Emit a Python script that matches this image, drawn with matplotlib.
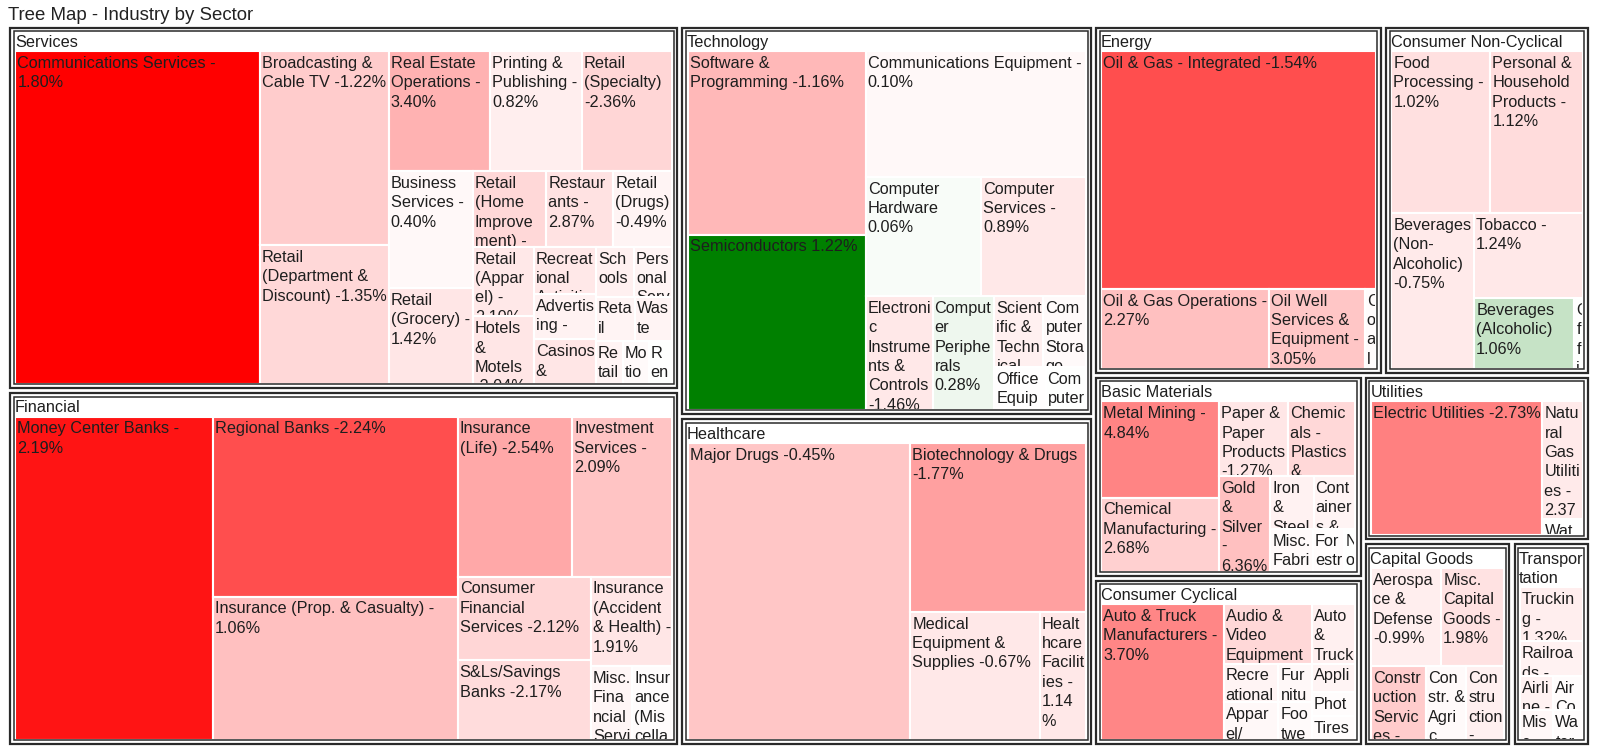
import matplotlib
matplotlib.use("Agg")
import matplotlib.pyplot as plt
from matplotlib.patches import Rectangle
from matplotlib.colors import LinearSegmentedColormap, Normalize
from matplotlib.font_manager import FontProperties
from matplotlib.transforms import Bbox, TransformedBbox

plt.rcParams['font.family'] = ['Liberation Sans', 'DejaVu Sans']

# ---------------- data ----------------
# size = market weight, change = % shown in label, heat = colour value (-1 red .. 1 green)
sectors = ['Services', 'Financial', 'Technology', 'Healthcare', 'Energy',
           'Consumer Non-Cyclical', 'Basic Materials', 'Consumer Cyclical',
           'Utilities', 'Capital Goods', 'Transportation']

services_names = ['Communications Services', 'Broadcasting & Cable TV', 'Retail (Department & Discount)',
                  'Real Estate Operations', 'Printing & Publishing', 'Retail (Specialty)',
                  'Business Services', 'Retail (Grocery)', 'Retail (Home Improvement)', 'Restaurants',
                  'Retail (Drugs)', 'Retail (Apparel)', 'Hotels & Motels', 'Recreational Activities',
                  'Advertising', 'Casinos & Gaming', 'Schools', 'Personal Services',
                  'Retail (Catalog & Mail Order)', 'Waste Management Services', 'Retail (Technology)',
                  'Motion Pictures', 'Rental & Leasing']
services_size = [88.0, 27.1, 19.4, 13.2, 11.9, 11.7, 10.6, 8.7, 6.0, 5.5, 4.8, 4.6, 4.45, 3.2,
                 3.05, 3.0, 2.05, 2.05, 1.85, 1.8, 1.25, 1.2, 1.1]
services_change = [-1.80, -1.22, -1.35, -3.40, -0.82, -2.36, -0.40, -1.42, -1.69, -2.87, -0.49,
                   -2.10, -2.04, -1.57, -1.84, -2.41, -2.32, -0.93, -1.12, -0.58, -0.77, -0.64, -0.35]
services_heat = [-1.0, -0.2, -0.15, -0.3, -0.07, -0.16, -0.03, -0.1, -0.15, -0.11, -0.04, -0.09,
                 -0.1, -0.09, -0.05, -0.1, -0.06, -0.04, -0.04, -0.04, -0.04, -0.02, 0.0]

financial_names = ['Money Center Banks', 'Regional Banks', 'Insurance (Prop. & Casualty)',
                   'Insurance (Life)', 'Investment Services', 'Consumer Financial Services',
                   'S&Ls/Savings Banks', 'Insurance (Accident & Health)', 'Misc. Financial Services',
                   'Insurance (Miscellaneous)']
financial_size = [69.4, 47.7, 38.0, 19.9, 17.3, 12.1, 11.5, 7.9, 3.3, 3.2]
financial_change = [-2.19, -2.24, -1.06, -2.54, -2.09, -2.12, -2.17, -1.91, -0.31, -0.05]
financial_heat = [-0.92, -0.69, -0.25, -0.34, -0.23, -0.16, -0.14, -0.1, -0.035, -0.01]

technology_names = ['Software & Programming', 'Semiconductors', 'Communications Equipment',
                    'Computer Hardware', 'Computer Services', 'Electronic Instruments & Controls',
                    'Computer Peripherals', 'Scientific & Technical Instr.', 'Computer Storage Devices',
                    'Office Equipment', 'Computer Networks']
technology_size = [35.7, 34.1, 30.2, 15.0, 13.6, 8.3, 7.7, 3.8, 3.3, 2.4, 1.9]
technology_change = [-1.16, 1.22, -0.10, 0.06, -0.89, -1.46, 0.28, -0.52, -0.12, -0.03, -0.02]
technology_heat = [-0.28, 1.0, -0.025, 0.03, -0.09, -0.09, 0.07, -0.06, -0.02, -0.005, 0.0]

healthcare_names = ['Major Drugs', 'Biotechnology & Drugs', 'Medical Equipment & Supplies',
                    'Healthcare Facilities']
healthcare_size = [73.4, 33.0, 18.4, 6.6]
healthcare_change = [-0.45, -1.77, -0.67, -1.14]
healthcare_heat = [-0.22, -0.37, -0.09, -0.09]

energy_names = ['Oil & Gas - Integrated', 'Oil & Gas Operations', 'Oil Well Services & Equipment', 'Coal']
energy_size = [73.1, 15.0, 8.6, 1.0]
energy_change = [-1.54, -2.27, -3.05, -1.05]
energy_heat = [-0.69, -0.25, -0.22, -0.01]

noncyclical_names = ['Food Processing', 'Personal & Household Products', 'Beverages (Non-Alcoholic)',
                     'Tobacco', 'Beverages (Alcoholic)', 'Office Supplies']
noncyclical_size = [18.4, 17.2, 14.8, 10.6, 8.1, 0.7]
noncyclical_change = [-1.02, -1.12, -0.75, -1.24, 1.06, -0.20]
noncyclical_heat = [-0.12, -0.14, -0.08, -0.09, 0.22, 0.0]

materials_names = ['Metal Mining', 'Chemical Manufacturing', 'Paper & Paper Products',
                   'Chemicals - Plastics & Rubber', 'Gold & Silver', 'Iron & Steel',
                   'Containers & Packaging', 'Misc. Fabricated Products', 'Forestry & Wood Products',
                   'Non-Metallic Mining']
materials_size = [13.8, 10.6, 6.3, 6.1, 5.9, 2.8, 2.7, 2.2, 1.6, 0.6]
materials_change = [-4.84, -2.68, -1.27, -1.93, -6.36, -1.41, -0.86, -0.44, -0.21, -0.10]
materials_heat = [-0.48, -0.18, -0.1, -0.15, -0.25, -0.05, -0.04, -0.02, -0.01, 0.0]

cyclical_names = ['Auto & Truck Manufacturers', 'Audio & Video Equipment', 'Auto & Truck Parts',
                  'Recreational Products', 'Apparel/Accessories', 'Furniture & Fixtures', 'Footwear',
                  'Appliance & Tool', 'Photography', 'Tires']
cyclical_size = [21.0, 6.6, 3.3, 2.7, 2.6, 1.65, 1.6, 1.55, 1.35, 1.3]
cyclical_change = [-3.70, -1.44, -0.82, -0.57, -0.49, -0.38, -0.31, -0.66, -0.18, -0.12]
cyclical_heat = [-0.47, -0.15, -0.06, -0.04, -0.03, -0.03, -0.02, -0.04, -0.01, -0.01]

utilities_names = ['Electric Utilities', 'Natural Gas Utilities', 'Water Utilities']
utilities_size = [29.5, 6.1, 0.85]
utilities_change = [-2.73, -2.37, -0.15]
utilities_heat = [-0.5, -0.08, 0.0]

capital_names = ['Aerospace & Defense', 'Misc. Capital Goods', 'Construction Services',
                 'Constr. & Agric. Machinery', 'Construction - Supplies & Fixtures']
capital_size = [8.8, 7.9, 5.2, 3.8, 3.6]
capital_change = [-0.99, -1.98, -2.85, -0.21, -1.02]
capital_heat = [-0.07, -0.11, -0.2, -0.02, -0.06]

transport_names = ['Trucking', 'Railroads', 'Airline', 'Air Courier', 'Misc. Transportation',
                   'Water Transportation']
transport_size = [5.5, 3.5, 1.85, 1.65, 1.6, 1.4]
transport_change = [-1.32, -1.11, -1.25, -0.25, -0.66, -0.30]
transport_heat = [-0.07, -0.05, -0.05, -0.01, -0.03, -0.01]

industries = {
    'Services': (services_names, services_size, services_change, services_heat),
    'Financial': (financial_names, financial_size, financial_change, financial_heat),
    'Technology': (technology_names, technology_size, technology_change, technology_heat),
    'Healthcare': (healthcare_names, healthcare_size, healthcare_change, healthcare_heat),
    'Energy': (energy_names, energy_size, energy_change, energy_heat),
    'Consumer Non-Cyclical': (noncyclical_names, noncyclical_size, noncyclical_change, noncyclical_heat),
    'Basic Materials': (materials_names, materials_size, materials_change, materials_heat),
    'Consumer Cyclical': (cyclical_names, cyclical_size, cyclical_change, cyclical_heat),
    'Utilities': (utilities_names, utilities_size, utilities_change, utilities_heat),
    'Capital Goods': (capital_names, capital_size, capital_change, capital_heat),
    'Transportation': (transport_names, transport_size, transport_change, transport_heat),
}


# ---------------- squarified layout ----------------
def worst(row, side):
    s = sum(row)
    return max(max(side * side * r / (s * s), s * s / (side * side * r)) for r in row)


def squarify(values, x, y, dx, dy):
    # returns rects (x, y, w, h) in the order of values, y grows downwards
    order = sorted(range(len(values)), key=lambda i: -values[i])
    total = sum(values)
    areas = [values[i] * dx * dy / total for i in order]
    rects = [None] * len(values)
    k = 0
    while k < len(areas):
        side = min(dx, dy)
        row = [areas[k]]
        j = k + 1
        while j < len(areas) and worst(row + [areas[j]], side) <= worst(row, side):
            row.append(areas[j])
            j += 1
        s = sum(row)
        if dx >= dy:
            cw = s / dy
            yy = y
            for n, a in enumerate(row):
                rects[order[k + n]] = (x, yy, cw, a / cw)
                yy += a / cw
            x += cw
            dx -= cw
        else:
            rh = s / dx
            xx = x
            for n, a in enumerate(row):
                rects[order[k + n]] = (xx, y, a / rh, rh)
                xx += a / rh
            y += rh
            dy -= rh
        k = j
    return rects


# ---------------- text wrapping ----------------
fig = plt.figure(figsize=(16, 7.54), dpi=100)
ax = fig.add_axes([0, 0, 1, 1])
ax.set_xlim(0, 1600)
ax.set_ylim(754, 0)
ax.axis('off')

renderer = fig.canvas.get_renderer()
font = FontProperties(family='Liberation Sans', size=11.7)
LINE = 19.4
BASE = 15.8


def text_width(s):
    if not s:
        return 0
    return renderer.get_text_width_height_descent(s, font, ismath=False)[0]


def tokens(s):
    out, cur = [], ''
    for i, ch in enumerate(s):
        cur += ch
        nxt = s[i + 1] if i + 1 < len(s) else ' '
        if ch == ' ' or ch == '/' or (ch == '-' and nxt != ' '):
            out.append(cur)
            cur = ''
    if cur:
        out.append(cur)
    return out


def wrap(s, width):
    lines, line = [], ''
    for tok in tokens(s):
        if text_width((line + tok).rstrip()) <= width:
            line += tok
            continue
        if line:
            lines.append(line.rstrip())
            line = ''
        while len(tok.rstrip()) > 1 and text_width(tok.rstrip()) > width:
            k = len(tok.rstrip())
            while k > 1 and text_width(tok[:k]) > width:
                k -= 1
            lines.append(tok[:k])
            tok = tok[k:]
        line = tok
    if line.strip():
        lines.append(line.rstrip())
    return lines


def draw_lines(lines, x, y, box):
    bx, by, bw, bh = box
    clip = TransformedBbox(Bbox.from_bounds(bx, by, bw, bh), ax.transData)
    for n, ln in enumerate(lines):
        base = y + BASE + n * LINE
        if base - 12 > by + bh:
            break  # line would be fully hidden below the cell
        t = ax.text(x, base, ln, fontproperties=font, color='#1e1e1e',
                    ha='left', va='baseline', zorder=3)
        t.set_clip_box(clip)
        t.set_clip_on(True)


cmap = LinearSegmentedColormap.from_list('rwg', ['#ff0000', '#ffffff', '#008000'])
norm = Normalize(-1, 1)

# ---------------- drawing ----------------
ax.text(8, 20.5, 'Tree Map - Industry by Sector', fontsize=13.4, color='#222222',
        ha='left', va='baseline')

sector_totals = [sum(industries[s][1]) for s in sectors]
sector_rects = squarify(sector_totals, 7.6, 25, 1583, 721.5)

for sec, (sx, sy, sw, sh) in zip(sectors, sector_rects):
    sx, sy, sw, sh = sx + 2.6, sy + 2.6, sw - 5.2, sh - 5.2
    ax.add_patch(Rectangle((sx, sy), sw, sh, facecolor='white', edgecolor='#2a2a2a',
                           lw=1.6, zorder=1))
    ax.add_patch(Rectangle((sx + 3.6, sy + 3.6), sw - 7.2, sh - 7.2, facecolor='none',
                           edgecolor='#2a2a2a', lw=1.1, zorder=4))
    head = wrap(sec, sw - 8)
    draw_lines(head, sx + 4.6, sy + 3.5, (sx + 4, sy + 4, sw - 8, sh - 8))

    names, sizes, changes, heats = industries[sec]
    top = 23.5 + (len(head) - 1) * LINE
    ix, iy, iw, ih = sx + 5.1, sy + top, sw - 10.2, sh - top - 4
    for name, chg, heat, (cx, cy, cw, ch) in zip(names, changes, heats,
                                                 squarify(sizes, ix, iy, iw, ih)):
        ax.add_patch(Rectangle((cx, cy), cw, ch, facecolor=cmap(norm(heat)), edgecolor='white',
                               lw=1.5, zorder=2))
        label = f'{name} {chg:.2f}%'
        draw_lines(wrap(label, cw - 3), cx + 2, cy + 1, (cx + 1, cy + 1, cw - 2, ch - 2))

fig.savefig('out.png', dpi=100)
